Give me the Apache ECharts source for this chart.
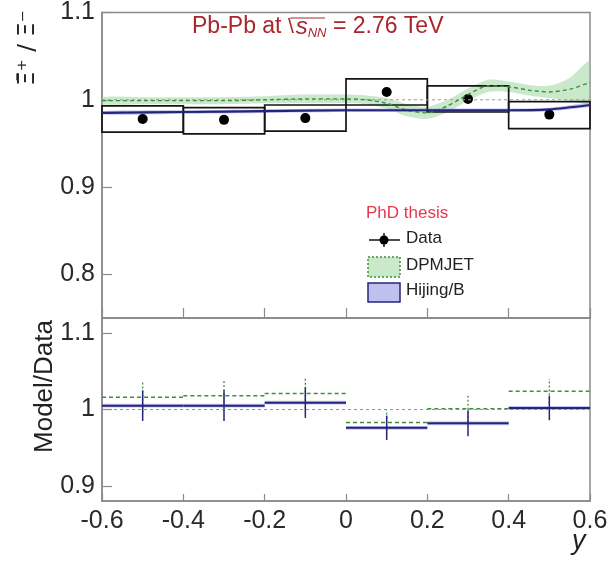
<!DOCTYPE html>
<html><head><meta charset="utf-8">
<script src="https://cdn.jsdelivr.net/npm/echarts@6/dist/echarts.min.js"></script>
<style>html,body{margin:0;padding:0;background:#fff}#c{width:615px;height:563px}</style>
</head><body><div id="c"></div>
<script>
// ---- data ----
const binLo = [-0.6, -0.4, -0.2, 0.0, 0.2, 0.4];
const binHi = [-0.4, -0.2, 0.0, 0.2, 0.4, 0.6];
const binCenter = [-0.5, -0.3, -0.1, 0.1, 0.3, 0.5];
const dataVals = [0.978, 0.977, 0.979, 1.009, 1.001, 0.983];
const statErr = [0.002, 0.002, 0.002, 0.002, 0.002, 0.002];
const systLo = [0.963, 0.961, 0.964, 0.994, 0.986, 0.967];
const systHi = [0.993, 0.991, 0.994, 1.024, 1.016, 0.998];

const dpmX = [-0.6, -0.5, -0.4, -0.3, -0.2, -0.1, 0.0, 0.05, 0.1, 0.15, 0.2, 0.25, 0.3, 0.35, 0.4, 0.45, 0.5, 0.55, 0.6];
const dpmMid = [0.999, 0.999, 0.999, 0.999, 1.000, 1.001, 1.001, 1.000, 0.996, 0.988, 0.985, 0.993, 1.006, 1.016, 1.015, 1.011, 1.009, 1.012, 1.020];
const dpmHalf = [0.004, 0.004, 0.004, 0.004, 0.004, 0.005, 0.005, 0.005, 0.006, 0.007, 0.007, 0.007, 0.007, 0.007, 0.006, 0.006, 0.007, 0.013, 0.024];

const hijX = [-0.6, -0.4, -0.2, 0.0, 0.2, 0.4, 0.5, 0.6];
const hijMid = [0.985, 0.986, 0.987, 0.988, 0.988, 0.988, 0.989, 0.994];
const hijHalf = [0.002, 0.002, 0.002, 0.002, 0.002, 0.002, 0.002, 0.002];

const ratioDpm = [1.016, 1.018, 1.021, 0.983, 1.001, 1.024];
const ratioHij = [1.005, 1.005, 1.009, 0.976, 0.982, 1.002];
const ratioErr = [0.020, 0.020, 0.020, 0.016, 0.017, 0.016];

const xTicks = [-0.6, -0.4, -0.2, 0, 0.2, 0.4, 0.6];
const topYTicks = [0.8, 0.9, 1.0, 1.1];
const botYTicks = [0.9, 1.0, 1.1];

// ---- chart ----
const FONT = 'Liberation Sans';
const chart = echarts.init(document.getElementById('c'), null, {renderer: 'canvas'});
const fmtX = v => Math.abs(v) < 1e-9 ? '0' : String(+v.toFixed(1));
const fmtY = v => Math.abs(v - 1) < 1e-9 ? '1' : v.toFixed(1);
const frame = '#8a8a8a';
const red = '#a8262c';

function xAxis(gi, showLabels) {
  return {
    type: 'value', gridIndex: gi, min: -0.6, max: 0.6, interval: 0.2,
    axisLine: {show: true, onZero: false, lineStyle: {color: frame, width: 1.5}},
    axisTick: {show: true, inside: true, length: gi === 0 ? 10 : 7, lineStyle: {color: frame, width: 1.2}},
    axisLabel: {show: showLabels, formatter: fmtX, fontSize: 25, color: '#2a2a2a', fontFamily: FONT, margin: 8},
    splitLine: {show: false}
  };
}
function yAxis(gi, mn, mx, ticks) {
  return {
    type: 'value', gridIndex: gi, min: mn, max: mx,
    axisLine: {show: true, onZero: false, lineStyle: {color: frame, width: 1.5}},
    axisTick: {show: true, inside: true, length: 10, customValues: ticks, lineStyle: {color: frame, width: 1.2}},
    axisLabel: {show: true, customValues: ticks, formatter: fmtY, fontSize: 25, color: '#2a2a2a', fontFamily: FONT, margin: 7},
    splitLine: {show: false}
  };
}

function bandSeries(xi, yi, xs, mid, half, fill, name) {
  return {
    type: 'custom', name: name, xAxisIndex: xi, yAxisIndex: yi, clip: true, silent: true,
    data: [[0]],
    renderItem: function (params, api) {
      const pts = [];
      for (let i = 0; i < xs.length; i++) pts.push(api.coord([xs[i], mid[i] + half[i]]));
      for (let i = xs.length - 1; i >= 0; i--) pts.push(api.coord([xs[i], mid[i] - half[i]]));
      return {type: 'polygon', shape: {points: pts, smooth: 0.25}, style: {fill: fill, stroke: 'none'}};
    }
  };
}

const option = {
  animation: false,
  backgroundColor: '#fff',
  grid: [
    {left: 102, top: 11, width: 488, height: 307, show: true, borderColor: frame, borderWidth: 1.5},
    {left: 102, top: 318, width: 488, height: 183, show: true, borderColor: frame, borderWidth: 1.5}
  ],
  xAxis: [xAxis(0, false), xAxis(1, true)],
  yAxis: [yAxis(0, 0.75, 1.1, topYTicks), yAxis(1, 0.88, 1.12, botYTicks)],
  series: [
    {type: 'line', xAxisIndex: 0, yAxisIndex: 0, data: [[-0.6, 1], [0.6, 1]], symbol: 'none', silent: true,
      lineStyle: {color: '#9a9a9a', width: 1, type: [3, 3]}},
    bandSeries(0, 0, dpmX, dpmMid, dpmHalf, 'rgba(150,210,150,0.5)', 'DPMJET band'),
    {type: 'line', name: 'DPMJET', xAxisIndex: 0, yAxisIndex: 0, smooth: 0.25, symbol: 'none',
      data: dpmX.map((x, i) => [x, dpmMid[i]]), lineStyle: {color: '#3f8f3f', width: 1.4, type: [4, 3]}},
    bandSeries(0, 0, hijX, hijMid, hijHalf, 'rgba(140,140,225,0.55)', 'Hijing band'),
    {type: 'line', name: 'Hijing/B', xAxisIndex: 0, yAxisIndex: 0, smooth: 0.25, symbol: 'none',
      data: hijX.map((x, i) => [x, hijMid[i]]), lineStyle: {color: '#24247a', width: 2.2}},
    {type: 'custom', name: 'syst', xAxisIndex: 0, yAxisIndex: 0, silent: true,
      data: binLo.map((lo, i) => [lo, binHi[i], systLo[i], systHi[i]]),
      renderItem: function (params, api) {
        const p1 = api.coord([api.value(0), api.value(3)]);
        const p2 = api.coord([api.value(1), api.value(2)]);
        return {type: 'rect', shape: {x: p1[0], y: p1[1], width: p2[0] - p1[0], height: p2[1] - p1[1]},
          style: {fill: 'none', stroke: '#141414', lineWidth: 1.7}};
      }},
    {type: 'custom', name: 'stat', xAxisIndex: 0, yAxisIndex: 0, silent: true,
      data: binCenter.map((x, i) => [x, dataVals[i] - statErr[i], dataVals[i] + statErr[i]]),
      renderItem: function (params, api) {
        const a = api.coord([api.value(0), api.value(1)]);
        const b = api.coord([api.value(0), api.value(2)]);
        return {type: 'line', shape: {x1: a[0], y1: a[1], x2: b[0], y2: b[1]}, style: {stroke: '#000', lineWidth: 1.5}};
      }},
    {type: 'scatter', name: 'Data', xAxisIndex: 0, yAxisIndex: 0, symbol: 'circle', symbolSize: 10,
      itemStyle: {color: '#000', opacity: 1}, data: binCenter.map((x, i) => [x, dataVals[i]])},

    // ---- ratio panel ----
    {type: 'line', xAxisIndex: 1, yAxisIndex: 1, data: [[-0.6, 1], [0.6, 1]], symbol: 'none', silent: true,
      lineStyle: {color: '#8a8ad0', width: 1.2, type: [3, 3]}},
    {type: 'custom', name: 'Hijing ratio', xAxisIndex: 1, yAxisIndex: 1, silent: true,
      data: binLo.map((lo, i) => [lo, binHi[i], ratioHij[i]]),
      renderItem: function (params, api) {
        const a = api.coord([api.value(0), api.value(2) + 0.0025]);
        const b = api.coord([api.value(1), api.value(2) - 0.0025]);
        const c = api.coord([api.value(0), api.value(2)]);
        const d = api.coord([api.value(1), api.value(2)]);
        return {type: 'group', children: [
          {type: 'rect', shape: {x: a[0], y: a[1], width: b[0] - a[0], height: b[1] - a[1]}, style: {fill: 'rgba(140,140,225,0.5)'}},
          {type: 'line', shape: {x1: c[0], y1: c[1], x2: d[0], y2: d[1]}, style: {stroke: '#24247a', lineWidth: 2}}
        ]};
      }},
    {type: 'custom', name: 'DPMJET ratio', xAxisIndex: 1, yAxisIndex: 1, silent: true,
      data: binLo.map((lo, i) => [lo, binHi[i], ratioDpm[i]]),
      renderItem: function (params, api) {
        const c = api.coord([api.value(0), api.value(2)]);
        const d = api.coord([api.value(1), api.value(2)]);
        return {type: 'line', shape: {x1: c[0], y1: c[1], x2: d[0], y2: d[1]},
          style: {stroke: '#3f8f3f', lineWidth: 1.6, lineDash: [4, 3]}};
      }},
    {type: 'custom', name: 'ratio err', xAxisIndex: 1, yAxisIndex: 1, silent: true,
      data: binCenter.map((x, i) => [x, ratioDpm[i], ratioHij[i], ratioErr[i]]),
      renderItem: function (params, api) {
        const x = api.value(0), e = api.value(3);
        const g1 = api.coord([x, api.value(1) - e]), g2 = api.coord([x, api.value(1) + e]);
        const h1 = api.coord([x, api.value(2) - e]), h2 = api.coord([x, api.value(2) + e]);
        return {type: 'group', children: [
          {type: 'line', shape: {x1: g1[0], y1: g1[1], x2: g2[0], y2: g2[1]}, style: {stroke: '#3f8f3f', lineWidth: 1.3, lineDash: [2, 2]}},
          {type: 'line', shape: {x1: h1[0], y1: h1[1], x2: h2[0], y2: h2[1]}, style: {stroke: '#24247a', lineWidth: 1.5}}
        ]};
      }}
  ],
  graphic: [
    {type: 'text', left: 192, top: 15, style: {
      text: '{a|Pb-Pb at }{r|\\}{s|s}{n|NN}{a| = 2.76 TeV}',
      rich: {
        a: {fontSize: 23, fontFamily: FONT, fill: red},
        r: {fontSize: 21, fontFamily: FONT, fill: red, padding: [0, 2, 0, 0]},
        s: {fontSize: 24, fontFamily: FONT, fontStyle: 'italic', fill: red},
        n: {fontSize: 13, fontFamily: FONT, fontStyle: 'italic', fill: red, padding: [12, 0, 0, 0]}
      }}},
    {type: 'line', shape: {x1: 290, y1: 18, x2: 325, y2: 18}, style: {stroke: red, lineWidth: 1}},
    {type: 'text', left: 17, top: 10, rotation: Math.PI / 2,
      style: {text: 'Ξ̄⁺ / Ξ⁻', fontSize: 23, fontFamily: 'DejaVu Sans', fill: '#222'}},
    {type: 'text', left: 32, top: 320, rotation: Math.PI / 2,
      style: {text: 'Model/Data', fontSize: 26, fontFamily: FONT, fill: '#222'}},
    {type: 'text', left: 572, top: 528, style: {text: 'y', fontSize: 27, fontFamily: FONT, fontStyle: 'italic', fill: '#222'}},
    // legend
    {type: 'text', left: 366, top: 205, style: {text: 'PhD thesis', fontSize: 17, fontFamily: FONT, fill: '#e8364c'}},
    {type: 'line', shape: {x1: 369, y1: 240, x2: 400, y2: 240}, style: {stroke: '#000', lineWidth: 1.4}},
    {type: 'line', shape: {x1: 384, y1: 233, x2: 384, y2: 247}, style: {stroke: '#000', lineWidth: 1.4}},
    {type: 'circle', shape: {cx: 384, cy: 240, r: 4.5}, style: {fill: '#000'}},
    {type: 'text', left: 406, top: 230, style: {text: 'Data', fontSize: 17, fontFamily: FONT, fill: '#222'}},
    {type: 'rect', shape: {x: 368, y: 257, width: 32, height: 20}, style: {fill: 'rgba(150,210,150,0.5)', stroke: '#3f8f3f', lineWidth: 1.5, lineDash: [2, 2]}},
    {type: 'text', left: 406, top: 257, style: {text: 'DPMJET', fontSize: 17, fontFamily: FONT, fill: '#222'}},
    {type: 'rect', shape: {x: 368, y: 283, width: 32, height: 19}, style: {fill: 'rgba(140,140,225,0.55)', stroke: '#24247a', lineWidth: 1.5}},
    {type: 'text', left: 406, top: 282, style: {text: 'Hijing/B', fontSize: 17, fontFamily: FONT, fill: '#222'}}
  ]
};
chart.setOption(option);
</script></body></html>
